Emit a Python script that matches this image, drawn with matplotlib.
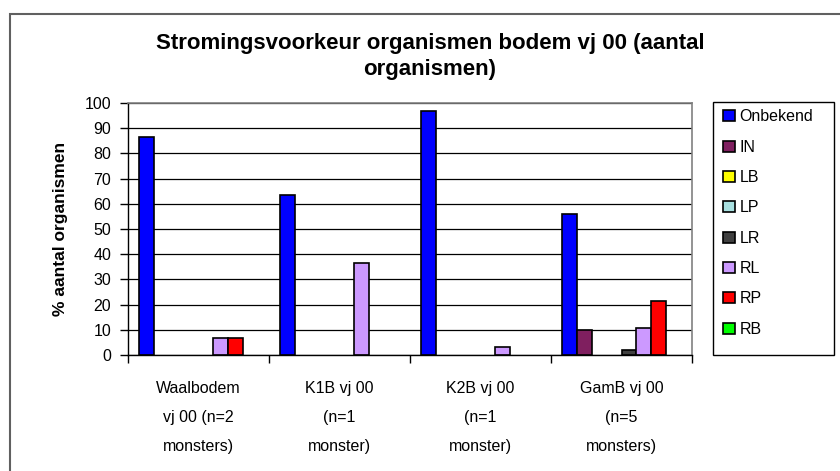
import numpy as np
from matplotlib import pyplot as plt
from matplotlib.patches import Rectangle

categories = [
    "Waalbodem\nvj 00 (n=2\nmonsters)",
    "K1B vj 00\n(n=1\nmonster)",
    "K2B vj 00\n(n=1\nmonster)",
    "GamB vj 00\n(n=5\nmonsters)",
]
series = ["Onbekend", "IN", "LB", "LP", "LR", "RL", "RP", "RB"]
onbekend = [86.7, 63.3, 96.7, 56.0]
in_ = [0, 0, 0, 10.0]
lb = [0, 0, 0, 0]
lp = [0, 0, 0, 0]
lr = [0, 0, 0, 2.0]
rl = [6.7, 36.7, 3.3, 10.8]
rp = [6.7, 0, 0, 21.4]
rb = [0, 0, 0, 0]
values = [onbekend, in_, lb, lp, lr, rl, rp, rb]
colors = ["#0000FF", "#7F1F5F", "#FFFF00", "#A8E0E0", "#404040", "#CC99FF", "#FF0000", "#00FF00"]
yticks = np.arange(0, 101, 10)


def main() -> None:
    plt.rcParams["font.family"] = ["Liberation Sans", "DejaVu Sans"]
    fig = plt.figure(figsize=(8.4, 4.71), dpi=100)
    W, H = 840, 471

    # outer chart border (cut off at right and bottom)
    fig.patches.append(Rectangle((10 / W, -0.1), 1.2, 1.1 - 14 / H, transform=fig.transFigure,
                                 fill=False, edgecolor="#606060", linewidth=1.5))

    ax = fig.add_axes([128 / W, 1 - 355 / H, (692 - 128) / W, (355 - 103) / H])
    x = np.arange(len(categories))
    width = 0.106
    n = len(series)
    for i, (name, vals, col) in enumerate(zip(series, values, colors)):
        vals = np.array(vals, dtype=float)
        mask = vals > 0
        ax.bar(x[mask] + (i - (n - 1) / 2) * width, vals[mask], width, color=col,
               edgecolor="black", linewidth=1.2, zorder=2)

    ax.set_xlim(-0.5, len(categories) - 0.5)
    ax.set_ylim(0, 100)
    ax.set_yticks(yticks)
    ax.tick_params(axis="y", direction="out", length=6, width=1, pad=6, labelsize=11.5)
    ax.set_xticks(x, categories)
    ax.tick_params(axis="x", which="major", length=0, pad=19, labelsize=11.5)
    for lab in ax.get_xticklabels():
        lab.set_linespacing(2.13)
    ax.set_xticks(np.arange(-0.5, len(categories), 1), minor=True)
    ax.tick_params(axis="x", which="minor", direction="out", length=6, width=1)

    ax.grid(axis="y", color="black", linewidth=0.9, zorder=0)
    ax.set_axisbelow(True)
    for s in ("top", "right"):
        ax.spines[s].set_color("#808080")
        ax.spines[s].set_linewidth(1.2)
    for s in ("left", "bottom"):
        ax.spines[s].set_color("black")
        ax.spines[s].set_linewidth(1.0)

    ax.set_ylabel("% aantal organismen", fontsize=12.5, fontweight="bold", labelpad=12)

    fig.text(430 / W, 1 - 33 / H, "Stromingsvoorkeur organismen bodem vj 00 (aantal\norganismen)",
             ha="center", va="top", fontsize=16, fontweight="bold", linespacing=1.3)

    # legend
    fig.patches.append(Rectangle((713 / W, 1 - 355 / H), (834 - 713) / W, (355 - 102) / H,
                                 transform=fig.transFigure, fill=False, edgecolor="black", linewidth=1))
    handles = [Rectangle((0, 0), 1, 1, facecolor=c, edgecolor="black", linewidth=1.2) for c in colors]
    fig.legend(handles, series, loc="upper left", bbox_to_anchor=(717 / W, 1 - 103 / H),
               frameon=False, fontsize=11.5, handlelength=0.7, handleheight=0.7,
               handletextpad=0.3, labelspacing=0.96, borderaxespad=0)

    fig.savefig("out.png", dpi=100)


if __name__ == "__main__":
    main()
